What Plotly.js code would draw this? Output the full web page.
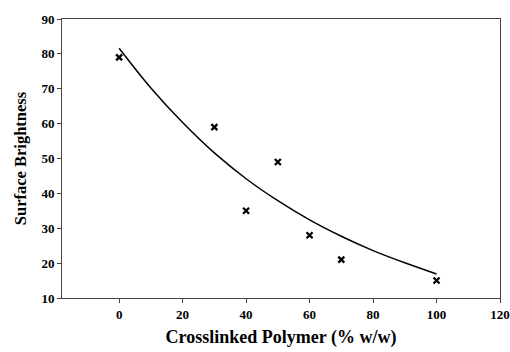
<!DOCTYPE html>
<html><head><meta charset="utf-8">
<script src="https://cdn.plot.ly/plotly-3.0.1.min.js"></script>
<style>html,body{margin:0;padding:0;background:#fff}#chart{width:510px;height:352px}</style>
</head><body><div id="chart"></div>
<script>
const polymer = [0, 30, 40, 50, 60, 70, 100];
const brightness = [79, 59, 35, 49, 28, 21, 15];
const trendX = [0, 10, 20, 30, 40, 50, 60, 70, 80, 90, 100];
const trendY = [81.6, 70.2, 60.3, 51.6, 44.2, 37.9, 32.4, 27.7, 23.6, 20.1, 16.9];
const xTicks = [0, 20, 40, 60, 80, 100, 120];
const yTicks = [10, 20, 30, 40, 50, 60, 70, 80, 90];
const font = 'Liberation Serif, Times New Roman, serif';
Plotly.newPlot('chart', [
  {x: trendX, y: trendY, mode: 'lines', line: {color: '#000', width: 1.5, shape: 'spline'}, hoverinfo: 'skip'},
  {x: polymer, y: brightness, mode: 'markers', marker: {symbol: 'x-thin-open', size: 6, color: '#000', line: {color: '#000', width: 2.3}}}
], {
  width: 510, height: 352, showlegend: false,
  paper_bgcolor: '#fff', plot_bgcolor: '#fff',
  margin: {l: 62, r: 10, t: 19, b: 54},
  font: {family: font, color: '#000'},
  xaxis: {range: [-18, 120], tickvals: xTicks, ticktext: xTicks.map(v => '<b>' + v + '</b>'), ticks: 'outside', ticklen: 4, tickcolor: '#444', tickwidth: 1,
    showgrid: false, zeroline: false, showline: true, linecolor: '#444', linewidth: 1, mirror: true,
    tickfont: {family: font, size: 13, color: '#000'},
    title: {text: '<b>Crosslinked Polymer (% w/w)</b>', font: {family: font, size: 18, color: '#000'}, standoff: 9}},
  yaxis: {range: [10, 90], tickvals: yTicks, ticktext: yTicks.map(v => '<b>' + v + '</b>'), ticks: 'outside', ticklen: 4, tickcolor: '#444', tickwidth: 1,
    showgrid: false, zeroline: false, showline: true, linecolor: '#444', linewidth: 1, mirror: true,
    tickfont: {family: font, size: 13, color: '#000'},
    title: {text: '<b>Surface Brightness</b>', font: {family: font, size: 16.5, color: '#000'}, standoff: 10}}
}, {displayModeBar: false, staticPlot: true});
</script></body></html>
